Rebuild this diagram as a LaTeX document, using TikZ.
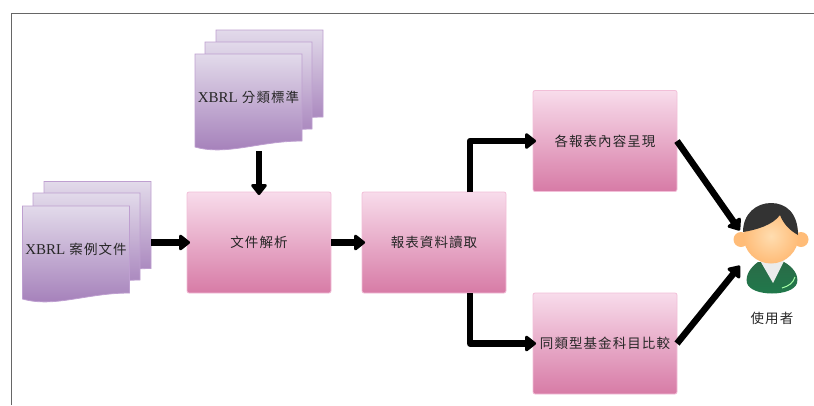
\documentclass[tikz,border=0pt]{standalone}
\usepackage{fontspec}
\setmainfont{Liberation Serif}
\newfontfamily\cjk[LetterSpace=8]{Noto Sans CJK TC}
\usepackage{tikz}
\usetikzlibrary{positioning}
\usetikzlibrary{arrows.meta}
\definecolor{pinktop}{HTML}{F8DCEB}
\definecolor{pinkbot}{HTML}{D77BA6}
\definecolor{pinkline}{HTML}{F2BFD8}
\definecolor{lilactop}{HTML}{E2DAEA}
\definecolor{lilacbot}{HTML}{A27CB8}
\definecolor{lilacline}{HTML}{BE9FD0}
\definecolor{skinin}{HTML}{FFDDB0}
\definecolor{skinout}{HTML}{FFBC78}
\definecolor{shirt}{HTML}{1F7A4C}
\definecolor{shirtdark}{HTML}{2A6B47}
\newcommand{\docsheet}[1]{
    \path[docfill]
    (#1.north west) -- (#1.north east) -- (#1.south east)
    .. controls ([xshift=-43pt]#1.south east) and ([xshift=-75pt,yshift=-15pt]#1.south east)
    .. ([yshift=-6pt]#1.south west) -- cycle;
}

\begin{document}
\begin{tikzpicture}[x=1pt,y=-1pt,on grid,font=\cjk\fontsize{13.5}{15}\selectfont]
    \tikzset{procbox/.style={rectangle,rounded corners=2pt,draw=pinkline,line width=0.8pt,top color=pinktop,bottom color=pinkbot,minimum width=144pt,minimum height=101pt,inner sep=0pt,outer sep=0pt,text=black!85}}
    \tikzset{sheet/.style={rectangle,minimum width=107pt,minimum height=87pt,inner sep=0pt,outer sep=0pt}}
    \tikzset{docfill/.style={draw=lilacline,line width=0.8pt,top color=lilactop,bottom color=lilacbot}}
    \tikzset{sheettext/.style={text=black!85,inner sep=0pt}}
    \tikzset{flow/.style={draw=black,line width=6.5pt,line join=round,-{Triangle[length=12pt,width=18pt,round]},shorten >=-3pt}}
    \useasboundingbox (0,0) rectangle (814,405);
    \draw[black!60,line width=0.8pt] (11,405) -- (11,13) -- (814,13);

    \node[sheet] (taxc) at (269.5,73.5) {};
    \node[sheet] (taxb) at (258.5,85.5) {};
    \node[sheet] (taxa) at (248.5,97.5) {};
    \node[sheet] (casec) at (97.5,225) {};
    \node[sheet] (caseb) at (86.5,236.5) {};
    \node[sheet] (casea) at (76,249.5) {};
    \docsheet{taxc}
    \docsheet{taxb}
    \docsheet{taxa}
    \docsheet{casec}
    \docsheet{caseb}
    \docsheet{casea}
    \node[sheettext] (taxlabel) at (taxa) {{\rmfamily\fontsize{15}{15}\selectfont XBRL} 分類標準};
    \node[sheettext] (caselabel) at (casea) {{\rmfamily\fontsize{15}{15}\selectfont XBRL} 案例文件};

    \node[procbox] (parse) at (259,242.5) {文件解析};
    \node[procbox] (read) [right = 175pt of parse] {報表資料讀取};
    \node[procbox] (show) [above right = 101.5pt and 171pt of read] {各報表內容呈現};
    \node[procbox] (compare) [below right = 101pt and 171pt of read] {同類型基金科目比較};

    \begin{scope}[shift={(771,233)}]
        \fill[skinout] (-30,6.5) circle (7.5);
        \fill[skinout] (30,6.5) circle (7.5);
        \path[top color=shirtdark,bottom color=shirt] (-13,29) .. controls (-20,34) and (-26,42) .. (-24,50) .. controls (-20,64) and (22,64) .. (26,50) .. controls (28,42) and (22,34) .. (13,29) -- cycle;
        \fill[black!8] (-13,24) -- (2,50) -- (15,24) -- cycle;
        \draw[green!35!white,line width=1pt] (24,44) .. controls (22,50) and (18,53) .. (11,55);
        \shade[inner color=skinin,outer color=skinout] (0,3) circle (27.5);
        \fill[black!80] (-28,-1) .. controls (-28,-20) and (-14,-30) .. (0,-30) .. controls (15,-30) and (27,-20) .. (27,2) .. controls (18,-3) and (12,-10) .. (9,-18) .. controls (2,-8) and (-15,-3) .. (-28,-1) -- cycle;
    \end{scope}
    \node[sheettext] (user) at (772,318) {使用者};
    \coordinate (userup) at (738,228);
    \coordinate (userdown) at (738,268);

    \path[flow] (casec.east |- parse.west) -- (parse.west);
    \path[flow] ([yshift=-10pt]taxa.south -| parse.north) -- (parse.north);
    \path[flow] (parse.east) -- (read.west);
    \path[flow] ([xshift=36pt]read.north) |- (show.west);
    \path[flow] ([xshift=36pt]read.south) |- (compare.west);
    \path[flow] (show.east) -- (userup);
    \path[flow] (compare.east) -- (userdown);
\end{tikzpicture}
\end{document}
